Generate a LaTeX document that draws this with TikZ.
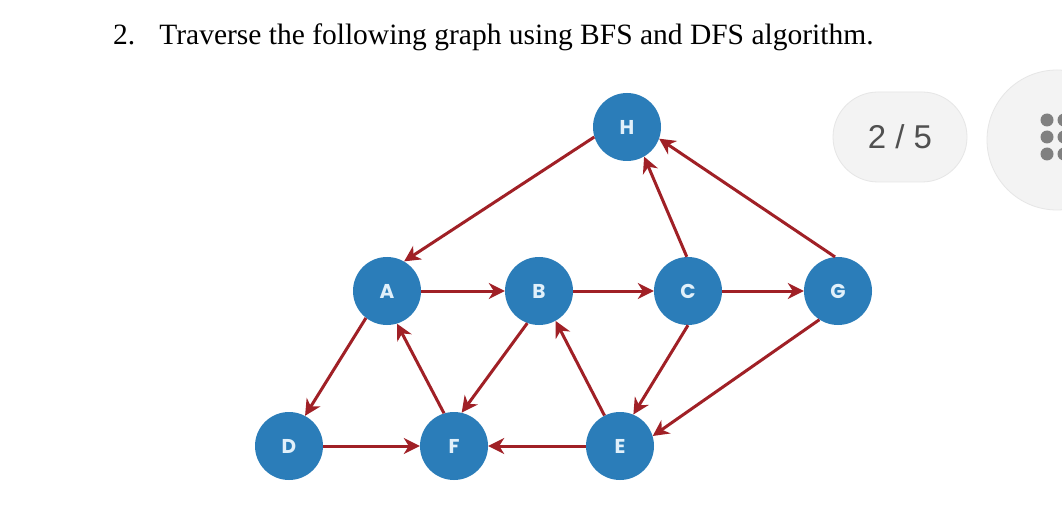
\documentclass[tikz,border=0pt]{standalone}
\usepackage{fontspec}
\setmainfont{Liberation Serif}
\newfontfamily\nodefont{Poppins}
\newfontfamily\uifont{Liberation Sans}
\usetikzlibrary{arrows.meta}
\definecolor{nodeblue}{RGB}{43,125,185}
\definecolor{nodetext}{RGB}{225,240,250}
\definecolor{edgered}{RGB}{160,32,38}
\definecolor{pillgray}{RGB}{243,243,243}
\definecolor{pilledge}{RGB}{230,230,230}
\definecolor{uitext}{RGB}{80,80,80}
\definecolor{dotgray}{RGB}{128,128,128}
\tikzset{
  vert/.style={circle, fill=nodeblue, draw=none, minimum size=68pt, inner sep=0pt,
    text=nodetext, font=\nodefont\bfseries\fontsize{20}{20}\selectfont},
  arc/.style={draw=edgered, line width=3pt,
    -{Stealth[length=16pt,width=16pt,inset=5pt]}},
  pill/.style={rectangle, rounded corners=45pt, fill=pillgray, draw=pilledge, line width=0.8pt,
    minimum width=134pt, minimum height=90pt, inner sep=0pt,
    text=uitext, font=\uifont\fontsize{33}{33}\selectfont},
  menubtn/.style={circle, fill=pillgray, draw=pilledge, line width=0.8pt, minimum size=140pt, inner sep=0pt},
  menudot/.style={fill=dotgray}
}
\begin{document}
\begin{tikzpicture}[x=1pt,y=-1pt]
\useasboundingbox (0,0) rectangle (1062,521);
\fill[white] (0,0) rectangle (1062,521);

% title
\node[anchor=base west, inner sep=0pt, font=\fontsize{29.5}{29.5}\selectfont] (title) at (113,45)
  {2.\hspace{24pt}Traverse the following graph using BFS and DFS algorithm.};

% page indicator and menu button
\node[pill] (page) at (900,137) {2 / 5};
\node[menubtn] (menu) at (1057,140) {};
\foreach \yy in {120,137,154} {
  \fill[menudot] (1047,\yy) circle (6.5pt);
  \fill[menudot] (1064,\yy) circle (6.5pt);
}

% vertices
\node[vert] (H) at (627,127) {H};
\node[vert] (A) at (387,291) {A};
\node[vert] (B) at (539,291) {B};
\node[vert] (C) at (688,291) {C};
\node[vert] (G) at (838,291) {G};
\node[vert] (D) at (289,446) {D};
\node[vert] (F) at (454,446) {F};
\node[vert] (E) at (620,446) {E};

% edges
\draw[arc] (H.197) -- (A.60);
\draw[arc] (A) -- (B);
\draw[arc] (B) -- (C);
\draw[arc] (C) -- (G);
\draw[arc] (C.92) -- (H.-60);
\draw[arc] (G.95) -- (H.-20);
\draw[arc] (A.232) -- (D.62);
\draw[arc] (F.107) -- (A.-73);
\draw[arc] (B.250) -- (F.77);
\draw[arc] (E.117) -- (B.-61);
\draw[arc] (D) -- (F);
\draw[arc] (E) -- (F);
\draw[arc] (C.-90) -- (E.67);
\draw[arc] (G.237) -- (E.17);
\end{tikzpicture}
\end{document}
